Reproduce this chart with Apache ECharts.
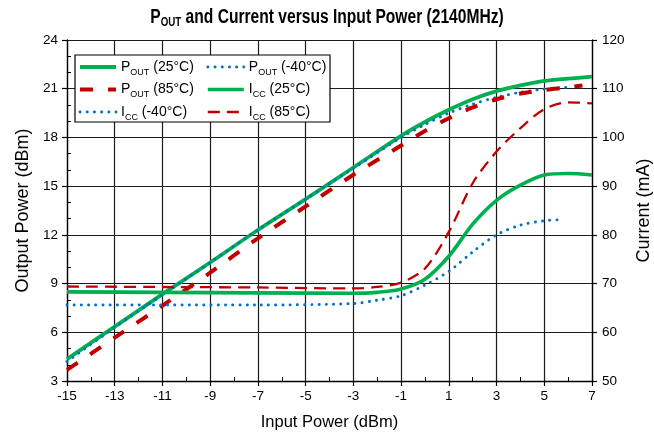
<!DOCTYPE html>
<html>
<head>
<meta charset="utf-8">
<script src="https://cdn.jsdelivr.net/npm/echarts@6/dist/echarts.min.js"></script>
<style>
  html, body { margin: 0; padding: 0; background: #fff; }
  #chart { width: 654px; height: 433px; }
</style>
</head>
<body>
<div id="chart"></div>
<script>
// Input power sweep (dBm) and measured curves
const pout25X = [-15, -13, -11, -9, -7, -5, -3, -1, 0, 1, 2, 3, 4, 5, 6, 7];
const pout25Y = [4.35, 6.35, 8.35, 10.3, 12.3, 14.2, 16.15, 18.1, 18.95, 19.7, 20.35, 20.85, 21.2, 21.48, 21.62, 21.74];

const poutM40X = [-15, -13, -11, -9, -7, -5, -3, -1, 0, 1, 2, 3, 4, 5, 5.9];
const poutM40Y = [4.2, 6.3, 8.3, 10.3, 12.3, 14.2, 16.1, 18.0, 18.8, 19.5, 20.05, 20.47, 20.78, 20.98, 21.08];

const pout85X = [-15, -13, -11, -9, -7, -5, -3, -1, 0, 1, 2, 3, 4, 5, 6, 6.6];
const pout85Y = [3.68, 5.67, 7.64, 9.67, 11.79, 13.75, 15.7, 17.5, 18.4, 19.18, 19.85, 20.35, 20.7, 20.92, 21.08, 21.2];

const icc25X = [-15, -11, -7, -3, -2, -1, 0, 1, 2, 3, 4, 5, 6, 7];
const icc25Y = [68.3, 68.2, 68.1, 68.0, 68.2, 68.9, 70.9, 75.6, 82.2, 87.1, 90.2, 92.3, 92.6, 92.3];

const iccM40X = [-15, -11, -7, -3, -2, -1, 0, 1, 2, 3, 4, 5, 5.65];
const iccM40Y = [65.6, 65.6, 65.6, 65.9, 66.6, 67.5, 69.7, 72.5, 76.5, 80.0, 82.0, 82.9, 83.1];

const icc85X = [-15, -11, -7, -3, -2, -1, 0, 1, 2, 3, 4, 5, 6, 7];
const icc85Y = [69.4, 69.3, 69.2, 69.0, 69.3, 70.2, 73.1, 80.6, 90.6, 97.1, 101.9, 105.8, 107.2, 107.0];

// Axis ranges / tick steps
const xRange = { min: -15, max: 7, step: 2 };
const leftRange = { min: 3, max: 24, step: 3 };
const rightRange = { min: 50, max: 120, step: 10 };

const seriesNames = ['POUT (25°C)', 'POUT (-40°C)', 'POUT (85°C)', 'ICC (25°C)', 'ICC (-40°C)', 'ICC (85°C)'];

const GREEN = '#00b050';
const RED = '#c00000';
const BLUE = '#0070c0';
const FONT = 'Liberation Sans, Arial, sans-serif';

function pairs(xs, ys) { return xs.map((x, i) => [x, ys[i]]); }

// Render "POUT"/"ICC" names with subscripts
function legendLabel(name) {
  const m = name.match(/^(P|I)(OUT|CC)(.*)$/);
  return '{m|' + m[1] + '}{s|' + m[2] + '}{m|' + m[3] + '}';
}

const dotStyle = (color) => ({ color, width: 2.9, type: [0.1, 7.1], cap: 'round' });

function lineSeries(name, xs, ys, yAxisIndex, lineStyle) {
  return {
    name, type: 'line', yAxisIndex,
    data: pairs(xs, ys),
    smooth: 0.3,
    symbol: 'none', showSymbol: false,
    itemStyle: { color: lineStyle.color },
    lineStyle,
    emphasis: { disabled: true },
    animation: false
  };
}

const legendText = {
  color: '#000', fontFamily: FONT, fontSize: 14,
  rich: {
    m: { fontSize: 14, fontFamily: FONT, color: '#000', lineHeight: 20 },
    s: { fontSize: 9, fontFamily: FONT, color: '#000', lineHeight: 10, verticalAlign: 'bottom' }
  }
};

const legendBase = {
  orient: 'vertical', padding: 0, itemGap: 5.5,
  itemWidth: 36, itemHeight: 12,
  formatter: legendLabel, textStyle: legendText,
  itemStyle: { opacity: 0 },
  lineStyle: { width: 'inherit' },
  selectedMode: false, z: 6
};

const axisLineStyle = { color: '#000', width: 1.3 };

const option = {
  animation: false,
  backgroundColor: '#fff',
  grid: { left: 67, right: 62, top: 40, bottom: 52, containLabel: false, outerBoundsMode: 'none' },
  legend: [
    Object.assign({}, legendBase, { left: 78, top: 60, data: [seriesNames[0], seriesNames[2], seriesNames[4]] }),
    Object.assign({}, legendBase, { left: 206, top: 60, data: [seriesNames[1], seriesNames[3], seriesNames[5]] })
  ],
  graphic: [{
    // chart title, condensed horizontally
    type: 'text', z: 10,
    x: 327, y: 17, scaleX: 0.78,
    style: {
      text: '{b|P}{bs|OUT}{b| and Current versus Input Power (2140MHz)}',
      align: 'center', verticalAlign: 'middle',
      rich: {
        b: { fontSize: 20, fontWeight: 'bold', fontFamily: FONT, fill: '#000', lineHeight: 25 },
        bs: { fontSize: 12.5, fontWeight: 'bold', fontFamily: FONT, fill: '#000', lineHeight: 12, verticalAlign: 'bottom' }
      }
    }
  }, {
    // legend frame
    type: 'rect', z: 5,
    shape: { x: 75, y: 55, width: 255, height: 67 },
    style: { fill: '#fff', stroke: '#000', lineWidth: 1.2 }
  }],
  xAxis: {
    type: 'value', min: xRange.min, max: xRange.max, interval: xRange.step,
    name: 'Input Power (dBm)', nameLocation: 'middle', nameGap: 33,
    nameTextStyle: { fontSize: 16.5, fontFamily: FONT, color: '#000' },
    axisLine: { show: true, onZero: false, lineStyle: axisLineStyle },
    axisTick: { show: true, inside: false, length: 5, lineStyle: { color: '#000', width: 1.2 } },
    minorTick: { show: true, splitNumber: 2, length: -4, lineStyle: { color: '#000', width: 1 } },
    axisLabel: { fontSize: 13.5, fontFamily: FONT, color: '#000', margin: 8 },
    splitLine: { show: true, lineStyle: { color: '#1a1a1a', width: 1.2 } }
  },
  yAxis: [{
    type: 'value', min: leftRange.min, max: leftRange.max, interval: leftRange.step,
    name: 'Output Power (dBm)', nameLocation: 'middle', nameGap: 27,
    nameTextStyle: { fontSize: 18, fontFamily: FONT, color: '#000' },
    axisLine: { show: true, onZero: false, lineStyle: axisLineStyle },
    axisTick: { show: true, inside: false, length: 5, lineStyle: { color: '#000', width: 1.2 } },
    minorTick: { show: true, splitNumber: 3, length: -4, lineStyle: { color: '#000', width: 1 } },
    axisLabel: { fontSize: 13.5, fontFamily: FONT, color: '#000', margin: 9 },
    splitLine: { show: true, lineStyle: { color: '#1a1a1a', width: 1.2 } }
  }, {
    type: 'value', position: 'right', min: rightRange.min, max: rightRange.max, interval: rightRange.step,
    name: 'Current (mA)', nameLocation: 'middle', nameGap: 42,
    nameTextStyle: { fontSize: 18, fontFamily: FONT, color: '#000' },
    axisLine: { show: true, onZero: false, lineStyle: axisLineStyle },
    axisTick: { show: true, inside: false, length: 5, lineStyle: { color: '#000', width: 1.2 } },
    axisLabel: { fontSize: 13.5, fontFamily: FONT, color: '#000', margin: 10 },
    splitLine: { show: false }
  }],
  series: [
    lineSeries(seriesNames[0], pout25X, pout25Y, 0, { color: GREEN, width: 3.8, type: 'solid' }),
    lineSeries(seriesNames[1], poutM40X, poutM40Y, 0, dotStyle(BLUE)),
    lineSeries(seriesNames[2], pout85X, pout85Y, 0, { color: RED, width: 4, type: [13, 15], cap: 'butt' }),
    lineSeries(seriesNames[3], icc25X, icc25Y, 1, { color: GREEN, width: 3.6, type: 'solid' }),
    lineSeries(seriesNames[4], iccM40X, iccM40Y, 1, dotStyle(BLUE)),
    lineSeries(seriesNames[5], icc85X, icc85Y, 1, { color: RED, width: 2.3, type: [12, 7], cap: 'butt' })
  ]
};

const chart = echarts.init(document.getElementById('chart'), null, { renderer: 'canvas' });
chart.setOption(option);
</script>
</body>
</html>
